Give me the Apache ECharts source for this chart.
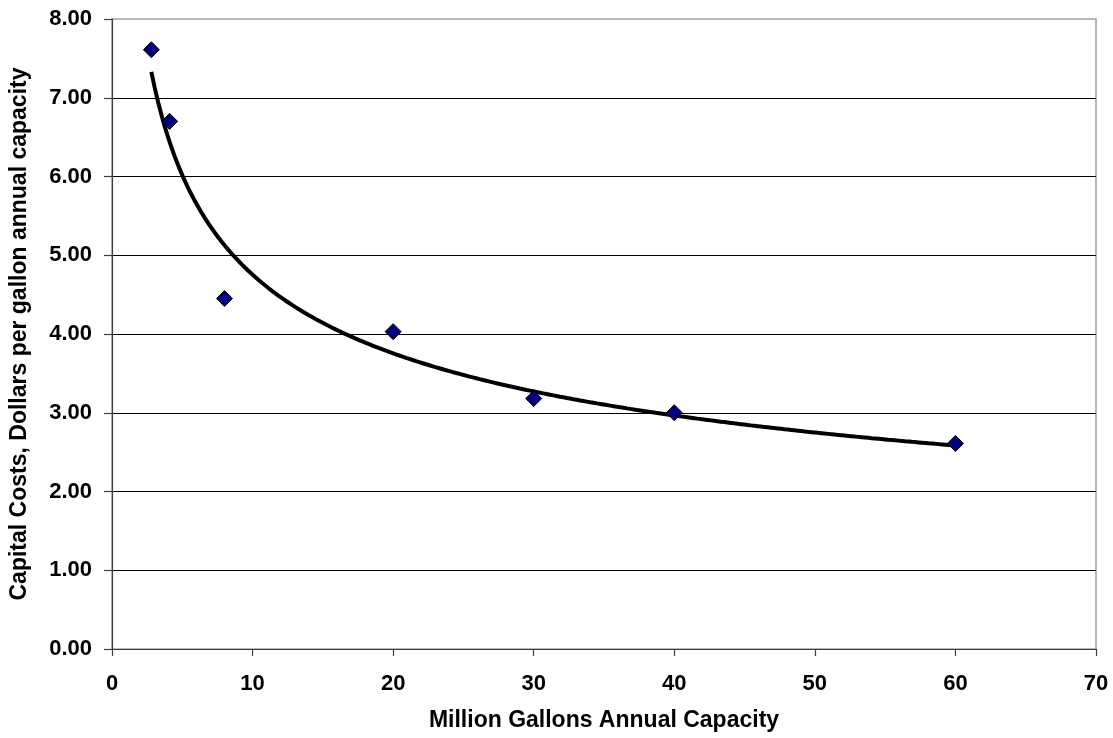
<!DOCTYPE html>
<html><head><meta charset="utf-8">
<script src="https://cdn.jsdelivr.net/npm/echarts@6/dist/echarts.min.js"></script>
<style>html,body{margin:0;padding:0;background:#fff}#c{width:1113px;height:738px}</style>
</head><body><div id="c"></div>
<script>
// Data
const capacity = [2.8, 4.1, 8, 20, 30, 40, 60];           // Million gallons annual capacity
const capitalCost = [7.61, 6.70, 4.45, 4.03, 3.18, 3.00, 2.61]; // $ per gallon annual capacity
const xAxisMin = 0, xAxisMax = 70, xAxisStep = 10;
const yAxisMin = 0, yAxisMax = 8, yAxisStep = 1;
const xTitle = 'Million Gallons Annual Capacity';
const yTitle = 'Capital Costs, Dollars per gallon annual capacity';

// Power trendline (least squares on logs), as in the original spreadsheet chart
const n = capacity.length;
const lx = capacity.map(Math.log), ly = capitalCost.map(Math.log);
const mx = lx.reduce((s, v) => s + v, 0) / n;
const my = ly.reduce((s, v) => s + v, 0) / n;
let sxy = 0, sxx = 0;
for (let i = 0; i < n; i++) { sxy += (lx[i] - mx) * (ly[i] - my); sxx += (lx[i] - mx) ** 2; }
const pb = sxy / sxx, pa = Math.exp(my - pb * mx);
const xmin = Math.min(...capacity), xmax = Math.max(...capacity);
const trend = [];
for (let i = 0; i <= 240; i++) {
  const x = xmin + (xmax - xmin) * i / 240;
  trend.push([x, pa * Math.pow(x, pb)]);
}

const FONT = "'Liberation Sans', Arial, sans-serif";
const chart = echarts.init(document.getElementById('c'), null, {renderer: 'canvas'});
chart.setOption({
  animation: false,
  backgroundColor: '#fff',
  grid: {left: 109, right: 17, top: 19, bottom: 89, show: true, borderColor: '#a0a0a0', borderWidth: 1.5, backgroundColor: '#fff'},
  xAxis: {
    type: 'value', min: xAxisMin, max: xAxisMax, interval: xAxisStep,
    name: xTitle, nameLocation: 'middle', nameGap: 60,
    nameTextStyle: {fontFamily: FONT, fontWeight: 'bold', fontSize: 23, color: '#000'},
    axisLine: {show: true, onZero: false, lineStyle: {color: '#404040', width: 1.2}},
    axisTick: {show: true, length: 7, lineStyle: {color: '#404040', width: 1.2}},
    axisLabel: {margin: 24, fontFamily: FONT, fontWeight: 'bold', fontSize: 22, color: '#000'},
    splitLine: {show: false}
  },
  yAxis: {
    type: 'value', min: yAxisMin, max: yAxisMax, interval: yAxisStep,
    name: yTitle, nameLocation: 'middle', nameGap: 81, nameRotate: 90,
    nameTextStyle: {fontFamily: FONT, fontWeight: 'bold', fontSize: 23, color: '#000'},
    axisLine: {show: true, onZero: false, lineStyle: {color: '#404040', width: 1.2}},
    axisTick: {show: true, length: 8, lineStyle: {color: '#404040', width: 1.2}},
    axisLabel: {margin: 20, fontFamily: FONT, fontWeight: 'bold', fontSize: 22, color: '#000',
      formatter: v => v.toFixed(2)},
    splitLine: {show: true, showMaxLine: false, lineStyle: {color: '#000', width: 1}}
  },
  series: [
    {
      type: 'line', data: trend, showSymbol: false, smooth: false, z: 2,
      lineStyle: {color: '#000', width: 4}, silent: true
    },
    {
      type: 'scatter', data: capacity.map((x, i) => [x, capitalCost[i]]),
      symbol: 'diamond', symbolSize: 16, z: 3,
      itemStyle: {color: '#000080', borderColor: '#000', borderWidth: 1, opacity: 1}
    }
  ]
});
</script></body></html>
